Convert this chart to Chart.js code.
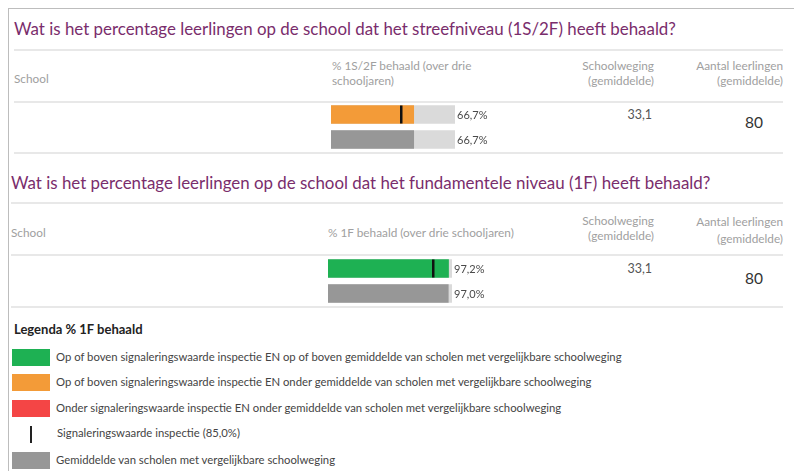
<!DOCTYPE html>
<html><head><meta charset="utf-8">
<script src="https://cdn.jsdelivr.net/npm/chart.js@4"></script>
<style>
html,body{margin:0;padding:0;background:#fff;}
#page{position:relative;width:794px;height:471px;overflow:hidden;font-family:Lato,"Open Sans",sans-serif;}
.abs{position:absolute;white-space:nowrap;}
.title{color:#7a2d6c;font-size:16.9px;}
.hdr{color:#a0a0a0;font-size:11.8px;line-height:15px;}
.r{text-align:right;}
.val{color:#555;font-size:12.5px;}
.big{color:#333;font-size:15.5px;}
.line{position:absolute;height:2px;background:#e8e8e8;}
.leg{color:#444;font-size:11.3px;}
.sw{position:absolute;width:38px;height:17px;}
</style></head>
<body>
<div id="page">
  <div style="position:absolute;left:8px;top:8px;width:1px;height:463px;background:#bdbdbd"></div>
  <div style="position:absolute;left:8px;top:8px;width:786px;height:1px;background:#bdbdbd"></div>

  <div class="abs title" id="t1" style="left:14px;top:18px"></div>
  <div class="line" style="left:14px;top:49px;width:769px"></div>
  <div class="abs hdr" style="left:14px;top:71px">School</div>
  <div class="abs hdr" id="h1" style="left:332px;top:58px"></div>
  <div class="abs hdr r" style="right:140px;top:58px">Schoolweging<br>(gemiddelde)</div>
  <div class="abs hdr r" style="right:11px;top:58px">Aantal leerlingen<br>(gemiddelde)</div>
  <div class="line" style="left:14px;top:101px;width:769px"></div>
  <div style="position:absolute;left:331px;top:102px;width:190px;height:50px"><canvas id="c1"></canvas></div>
  <div class="abs val r" id="w1" style="right:142px;top:107px"></div>
  <div class="abs big" id="n1" style="left:745px;top:113px"></div>
  <div class="line" style="left:14px;top:152px;width:769px"></div>

  <div class="abs title" id="t2" style="left:11px;top:172px"></div>
  <div class="line" style="left:11px;top:202px;width:772px"></div>
  <div class="abs hdr" style="left:11px;top:225px">School</div>
  <div class="abs hdr" id="h2" style="left:328px;top:225px"></div>
  <div class="abs hdr r" style="right:140px;top:213px">Schoolweging<br>(gemiddelde)</div>
  <div class="abs hdr r" style="right:11px;top:213px;line-height:17px">Aantal leerlingen<br>(gemiddelde)</div>
  <div class="line" style="left:11px;top:254px;width:772px"></div>
  <div style="position:absolute;left:328px;top:256px;width:190px;height:50px"><canvas id="c2"></canvas></div>
  <div class="abs val r" id="w2" style="right:142px;top:261px"></div>
  <div class="abs big" id="n2" style="left:745px;top:269px"></div>
  <div class="line" style="left:11px;top:306px;width:772px"></div>

  <div class="abs" id="legtitle" style="left:14px;top:321px;font-size:13px;font-weight:bold;color:#222"></div>
  <div id="legend"></div>
</div>
<script>
// ---- data ----
const titles = [
  "Wat is het percentage leerlingen op de school dat het streefniveau (1S/2F) heeft behaald?",
  "Wat is het percentage leerlingen op de school dat het fundamentele niveau (1F) heeft behaald?"
];
const columnHeaders = ["% 1S/2F behaald (over drie<br>schooljaren)", "% 1F behaald (over drie schooljaren)"];
const barCategories = ["School", "Gemiddelde vergelijkbare scholen"];
const values1S2F = [66.7, 66.7];
const values1F = [97.2, 97.0];
const signal1S2F = 56.5;
const signal1F = 85.0;
const barColors1S2F = ["#f39b38", "#979797"];
const barColors1F = ["#1eb153", "#979797"];
const schoolweging = ["33,1", "33,1"];
const aantalLeerlingen = ["80", "80"];
const legendTitle = "Legenda % 1F behaald";
const legendLabels = [
  "Op of boven signaleringswaarde inspectie EN op of boven gemiddelde van scholen met vergelijkbare schoolweging",
  "Op of boven signaleringswaarde inspectie EN onder gemiddelde van scholen met vergelijkbare schoolweging",
  "Onder signaleringswaarde inspectie EN onder gemiddelde van scholen met vergelijkbare schoolweging",
  "Signaleringswaarde inspectie (85,0%)",
  "Gemiddelde van scholen met vergelijkbare schoolweging"
];
const legendColors = ["#1eb153", "#f39b38", "#f44545", null, "#979797"];

// ---- text ----
document.getElementById('t1').textContent = titles[0];
document.getElementById('t2').textContent = titles[1];
document.getElementById('h1').innerHTML = columnHeaders[0];
document.getElementById('h2').innerHTML = columnHeaders[1];
document.getElementById('w1').textContent = schoolweging[0];
document.getElementById('w2').textContent = schoolweging[1];
document.getElementById('n1').textContent = aantalLeerlingen[0];
document.getElementById('n2').textContent = aantalLeerlingen[1];
document.getElementById('legtitle').textContent = legendTitle;
const legEl = document.getElementById('legend');
const legTops = [349, 374, 400, 425, 452];
legendLabels.forEach((lab, i) => {
  const top = legTops[i];
  if (legendColors[i]) {
    const s = document.createElement('div');
    s.className = 'sw';
    s.style.left = '12px'; s.style.top = top + 'px'; s.style.background = legendColors[i];
    legEl.appendChild(s);
  } else {
    const m = document.createElement('div');
    m.style.cssText = 'position:absolute;left:30px;top:' + (top+1) + 'px;width:2px;height:17px;background:#222';
    legEl.appendChild(m);
  }
  const t = document.createElement('div');
  t.className = 'abs leg';
  t.style.left = (i === 3 ? 57 : 56) + 'px';
  t.style.top = (top + 1) + 'px';
  t.textContent = lab;
  legEl.appendChild(t);
});

// ---- charts ----
const fmt = v => v.toFixed(1).replace('.', ',') + '%';
const overlay = {
  id: 'overlay',
  afterDatasetsDraw(chart, args, opts) {
    const ctx = chart.ctx;
    const xs = chart.scales.x;
    const meta = chart.getDatasetMeta(1);
    const b0 = meta.data[0];
    const mx = xs.getPixelForValue(opts.signal);
    ctx.save();
    ctx.fillStyle = '#111';
    ctx.fillRect(Math.round(mx) - 1, b0.y - b0.height / 2, 2.5, b0.height);
    ctx.fillStyle = '#4a4a4a';
    ctx.font = '11px Lato, sans-serif';
    ctx.textBaseline = 'middle';
    const endX = xs.getPixelForValue(100);
    opts.values.forEach((v, i) => {
      ctx.fillText(fmt(v), endX + 2, meta.data[i].y + 1);
    });
    ctx.restore();
  }
};
function makeChart(id, values, colors, signal) {
  new Chart(document.getElementById(id), {
    type: 'bar',
    data: {
      labels: barCategories,
      datasets: [
        { data: barCategories.map(() => 100), backgroundColor: '#dadada', barThickness: 18, grouped: false, order: 2 },
        { data: values, backgroundColor: colors, barThickness: 18, grouped: false, order: 1 }
      ]
    },
    options: {
      indexAxis: 'y',
      responsive: true,
      maintainAspectRatio: false,
      animation: false,
      layout: { padding: { left: 0, right: 66, top: 0, bottom: 0 } },
      scales: {
        x: { display: false, min: 0, max: 100 },
        y: { display: false }
      },
      plugins: {
        legend: { display: false },
        tooltip: { enabled: false },
        overlay: { signal: signal, values: values }
      }
    },
    plugins: [overlay]
  });
}
makeChart('c1', values1S2F, barColors1S2F, signal1S2F);
makeChart('c2', values1F, barColors1F, signal1F);
</script>
</body></html>
